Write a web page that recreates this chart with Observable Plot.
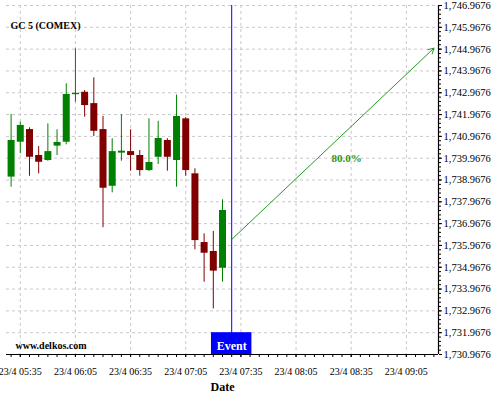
<!DOCTYPE html>
<html><head><meta charset="utf-8">
<script src="https://cdn.jsdelivr.net/npm/d3@7"></script>
<script src="https://cdn.jsdelivr.net/npm/@observablehq/plot@0.6"></script>
<style>body{margin:0;background:#fff}</style>
</head><body><div id="chart"></div>
<script>
const title = "GC 5 (COMEX)";
const watermark = "www.delkos.com";
const xAxisLabel = "Date";
const day = "2024-04-23";
const times = ["05:30","05:35","05:40","05:45","05:50","05:55","06:00","06:05","06:10","06:15","06:20","06:25",
               "06:30","06:35","06:40","06:45","06:50","06:55","07:00","07:05","07:10","07:15","07:20","07:25"];
const open  = [1739.10,1740.70,1741.28,1740.09,1739.86,1740.52,1740.70,1742.88,1742.99,1742.47,1741.28,1738.68,
               1740.20,1740.27,1740.09,1739.40,1740.01,1740.78,1739.86,1741.77,1739.25,1736.10,1735.69,1734.92];
const high  = [1741.97,1741.62,1741.36,1740.50,1741.54,1741.27,1743.38,1744.98,1743.07,1743.65,1741.88,1740.86,
               1741.96,1741.27,1740.32,1741.77,1741.66,1740.86,1742.86,1741.83,1739.48,1736.50,1736.61,1738.06];
const low   = [1738.64,1740.17,1739.14,1739.25,1739.83,1740.09,1740.58,1742.53,1741.85,1740.96,1736.78,1738.38,
               1739.83,1739.37,1739.14,1739.36,1739.68,1739.37,1738.64,1739.14,1735.77,1734.28,1733.06,1734.28];
const close = [1740.78,1741.47,1740.01,1739.78,1740.27,1740.69,1742.89,1742.94,1742.38,1741.20,1738.59,1740.27,
               1740.29,1740.09,1739.40,1739.77,1740.87,1740.01,1741.88,1739.40,1736.19,1735.61,1734.79,1737.57];
const xTickTimes = ["05:35","06:05","06:35","07:05","07:35","08:05","08:35","09:05"];
const yTickValues = [1730.9676,1731.9676,1732.9676,1733.9676,1734.9676,1735.9676,1736.9676,1737.9676,1738.9676,
                     1739.9676,1740.9676,1741.9676,1742.9676,1743.9676,1744.9676,1745.9676,1746.9676];
const xDomainTimes = ["05:27:30","09:22:30"];
const eventTime = "07:30";
const eventLabel = "Event";
const forecastFrom = {time:"07:30", price:1736.24};
const forecastTo = {time:"09:20", price:1745.01};
const forecastLabel = "80.0%";
const forecastLabelAt = {time:"08:32:30", price:1739.95};

const parseT = t => d3.utcParse("%Y-%m-%d %H:%M:%S")(`${day} ${t.length === 5 ? t + ":00" : t}`);
const green = "#008000", red = "#800000", blue = "#0000ff", arrowGreen = "#229922";
const candles = times.map((t, i) => ({t: parseT(t), o: open[i], h: high[i], l: low[i], c: close[i]}));
const xDom = xDomainTimes.map(parseT);
const yDom = [yTickValues[0], yTickValues[yTickValues.length - 1]];
const xTicks = xTickTimes.map(parseT);
const minorX = d3.utcMinute.every(5).range(xDom[0], xDom[1]);
const minorY = d3.range(0, 81).map(i => yDom[0] + i * 0.2);
const ev = parseT(eventTime);
const evBox = {x1: d3.utcMinute.offset(ev, -11), x2: d3.utcMinute.offset(ev, 11), y1: yTickValues[0], y2: yTickValues[1]};
const col = d => d.c >= d.o ? green : red;
const grid = {stroke: "#c8c8c8", strokeOpacity: 1, strokeDasharray: "3,3"};

const chart = Plot.plot({
  width: 500, height: 400,
  marginLeft: 6, marginRight: 62, marginTop: 5, marginBottom: 46,
  style: {fontFamily: "'Liberation Serif', 'Times New Roman', serif", fontSize: "10px", background: "#fff", color: "#000"},
  x: {type: "utc", domain: xDom},
  y: {domain: yDom},
  marks: [
    Plot.gridX({ticks: xTicks, ...grid}),
    Plot.gridY({ticks: yTickValues, ...grid}),
    Plot.axisX({ticks: minorX, tickSize: 3, tickFormat: () => "", label: null}),
    Plot.axisX({ticks: xTicks, tickSize: 3, tickPadding: 10, tickFormat: d3.utcFormat("%-d/%-m %H:%M"), label: null, fontSize: 10}),
    Plot.axisY({anchor: "right", ticks: minorY, tickSize: 2, tickFormat: () => "", label: null}),
    Plot.axisY({anchor: "right", ticks: yTickValues, tickSize: 3, tickPadding: 2, tickFormat: d3.format(",.4f"), label: null, fontSize: 10.5}),
    Plot.ruleY([yDom[0]], {stroke: "#000", strokeWidth: 1.2}),
    Plot.ruleX([xDom[1]], {stroke: "#000", strokeWidth: 1.2}),
    Plot.ruleX(candles, {x: "t", y1: "l", y2: "h", stroke: col, strokeWidth: 1}),
    Plot.ruleX(candles, {x: "t", y1: "o", y2: "c", stroke: col, strokeWidth: 7}),
    Plot.ruleX([ev], {stroke: blue, strokeWidth: 1}),
    Plot.rect([evBox], {x1: "x1", x2: "x2", y1: "y1", y2: "y2", fill: blue}),
    Plot.text([eventLabel], {x: ev, y: (evBox.y1 + evBox.y2) / 2, text: d => d, fill: "#fff", fontWeight: "bold", fontSize: 12, dy: 3}),
    Plot.arrow([{}], {x1: parseT(forecastFrom.time), y1: forecastFrom.price, x2: parseT(forecastTo.time), y2: forecastTo.price,
                      stroke: arrowGreen, strokeWidth: 1, headLength: 9}),
    Plot.text([forecastLabel], {x: parseT(forecastLabelAt.time), y: forecastLabelAt.price, text: d => d, fill: arrowGreen, fontWeight: "bold", fontSize: 11}),
    Plot.text([title], {frameAnchor: "top-left", text: d => d, dx: 4, dy: 16.5, textAnchor: "start", fontWeight: "bold", fontSize: 10}),
    Plot.text([watermark], {frameAnchor: "bottom-left", text: d => d, dx: 9, dy: -5.5, textAnchor: "start", fontWeight: "bold", fontSize: 10}),
    Plot.text([xAxisLabel], {frameAnchor: "bottom", text: d => d, dy: 36, fontWeight: "bold", fontSize: 12})
  ]
});
document.getElementById("chart").append(chart);
</script>
</body></html>
